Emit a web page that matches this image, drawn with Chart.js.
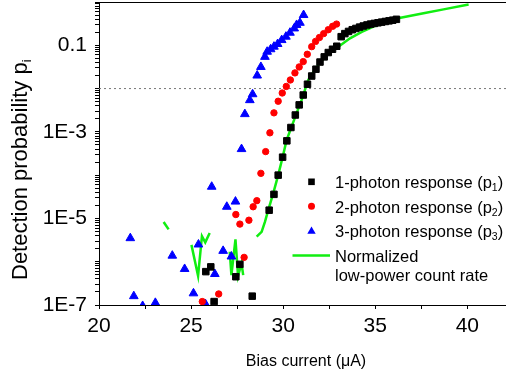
<!DOCTYPE html>
<html>
<head>
<meta charset="utf-8">
<script src="https://cdn.jsdelivr.net/npm/chart.js@4/dist/chart.umd.min.js"></script>
<style>
  body { margin: 0; background: #fff; }
</style>
</head>
<body>
<canvas id="grafik" width="506" height="376"></canvas>
<script>
const FONT = '"Liberation Sans", Arial, sans-serif';

// x axis
const xMin = 20;
const xMax = 42.1;
const xTickStep = 2.5;
// y axis (log)
const yMin = 1e-7;
const yMax = 1;
const yTickValues = [1e-7, 1e-5, 1e-3, 0.1];
const yTickLabels = ["1E-7", "1E-5", "1E-3", "0.1"];
const thresholdLevel = 0.01;

// 1-photon response (p1)
const p1X = [25.80, 26.07, 26.25, 27.43, 27.65, 28.32,
  29.24, 29.50, 29.73, 29.97, 30.20, 30.42, 30.66, 30.87, 31.09, 31.32, 31.55, 31.78, 32.00, 32.23, 32.45, 32.68, 32.91,
  33.15, 33.35, 33.55, 33.75, 33.95, 34.15, 34.35, 34.55, 34.75, 34.95, 35.15, 35.35, 35.55, 35.75, 35.95, 36.15];
const p1Y = [5.9e-7, 7.6e-7, 1.2e-7, 4.5e-7, 8.7e-7, 1.6e-7,
  1.55e-5, 3.6e-5, 1.0e-4, 2.6e-4, 6.2e-4, 1.26e-3, 2.45e-3, 4.2e-3, 7.1e-3, 1.26e-2, 1.95e-2, 2.8e-2, 4.1e-2, 5.4e-2, 6.8e-2, 8.1e-2, 9.5e-2,
  0.158, 0.186, 0.209, 0.229, 0.245, 0.263, 0.279, 0.295, 0.309, 0.320, 0.331, 0.343, 0.355, 0.367, 0.380, 0.398];

// 2-photon response (p2)
const p2X = [25.61, 26.50, 27.43, 27.65, 27.88, 28.14, 28.37, 28.57, 28.79, 29.05, 29.28, 29.50, 29.73, 29.95,
  30.17, 30.39, 30.64, 30.87, 31.09, 31.31, 31.55, 31.76, 31.97, 32.20, 32.45, 32.69, 32.90];
const p2Y = [1.2e-7, 1.8e-7, 1.23e-5, 7.4e-6, 1.26e-6, 9.1e-6, 1.86e-5, 2.57e-5, 1.1e-4, 3.5e-4, 9.5e-4, 2.75e-3, 5.1e-3, 7.9e-3,
  1.12e-2, 1.58e-2, 2.3e-2, 3.16e-2, 4.2e-2, 6.2e-2, 9.3e-2, 0.123, 0.151, 0.186, 0.229, 0.275, 0.309];

// 3-photon response (p3)
const p3X = [21.70, 21.89, 22.37, 23.06, 23.98, 24.65, 25.13, 25.40, 25.78, 26.12, 26.29, 26.74, 26.94, 27.19, 27.41,
  27.74, 27.92, 28.19, 28.34, 28.59, 28.79, 29.01, 29.13, 29.32, 29.50, 29.70, 29.92, 30.15, 30.37, 30.60, 30.73, 30.91, 31.11];
const p3Y = [3.5e-6, 1.6e-7, 9.5e-8, 1.12e-7, 1.38e-6, 6.8e-7, 1.86e-7, 2.5e-6, 1.05e-7, 5.4e-5, 5.2e-7, 1.78e-6, 1.86e-5, 1.32e-6, 2.45e-5,
  4.0e-4, 2.57e-3, 5.4e-3, 7.4e-3, 2.0e-2, 3.16e-2, 5.4e-2, 7.1e-2, 8.1e-2, 9.3e-2, 0.107, 0.132, 0.158, 0.195, 0.245, 0.295, 0.331, 0.50];

// normalized low-power count rate (broken into pieces)
const rateAX = [23.51, 23.78];
const rateAY = [8.3e-6, 5.6e-6];
const rateBX = [25.02, 25.38, 25.59, 25.77, 26.01];
const rateBY = [2.45e-6, 4.7e-7, 3.9e-6, 2.8e-6, 4.6e-6];
const rateCX = [27.10, 27.19, 27.41, 27.55, 27.74, 27.83];
const rateCY = [1.7e-6, 4.9e-7, 3.3e-6, 4.7e-7, 9.1e-7, 4.9e-7];
const rateX = [28.56, 28.83, 29.01, 29.19, 29.46, 29.73, 29.97, 30.19, 30.46, 30.73, 31.00, 31.36, 31.82, 32.36,
  33.00, 33.63, 34.27, 34.90, 35.63, 36.17, 37.62, 38.71, 40.07];
const rateY = [3.8e-6, 4.9e-6, 8.3e-6, 1.55e-5, 3.8e-5, 1.0e-4, 2.6e-4, 6.5e-4, 1.32e-3, 2.7e-3, 5.4e-3, 1.58e-2, 3.16e-2, 5.9e-2,
  9.3e-2, 0.145, 0.204, 0.269, 0.347, 0.417, 0.55, 0.676, 0.88];

const legendItems = [
  { text: "1-photon response (p", sub: "1", tail: ")", style: "rect", color: "#000000" },
  { text: "2-photon response (p", sub: "2", tail: ")", style: "circle", color: "#ff0000" },
  { text: "3-photon response (p", sub: "3", tail: ")", style: "triangle", color: "#0000ff" },
];
const GREEN = "#11ee11";

const toPoints = (xs, ys) => xs.map((x, i) => ({ x: x, y: ys[i] }));

function markerSet(xs, ys, style, color, radius) {
  return {
    data: toPoints(xs, ys),
    showLine: false,
    pointStyle: style,
    pointRadius: radius,
    pointHoverRadius: radius,
    pointBackgroundColor: color,
    pointBorderColor: color,
    pointBorderWidth: 1,
  };
}

function lineSet(xs, ys) {
  return {
    data: toPoints(xs, ys),
    showLine: true,
    borderColor: GREEN,
    borderWidth: 2.5,
    pointRadius: 0,
    tension: 0,
  };
}

// text with a subscript, drawn left to right from (x, y) along the baseline
function drawSubText(ctx, text, sub, tail, x, y, size, subSize, drop) {
  ctx.font = size + "px " + FONT;
  ctx.fillText(text, x, y);
  let w = ctx.measureText(text).width;
  ctx.font = subSize + "px " + FONT;
  ctx.fillText(sub, x + w, y + drop);
  w += ctx.measureText(sub).width;
  if (tail) {
    ctx.font = size + "px " + FONT;
    ctx.fillText(tail, x + w, y);
  }
}

const decorPlugin = {
  id: "decor",
  afterDraw(chart) {
    const ctx = chart.ctx;
    const area = chart.chartArea;
    ctx.save();
    // top frame line
    ctx.strokeStyle = "#000";
    ctx.lineWidth = 1;
    ctx.beginPath();
    ctx.moveTo(area.left, area.top + 0.5);
    ctx.lineTo(area.right, area.top + 0.5);
    ctx.stroke();

    ctx.fillStyle = "#000";
    ctx.textAlign = "left";
    ctx.textBaseline = "alphabetic";

    // y title (rotated)
    ctx.save();
    ctx.translate(27, 280);
    ctx.rotate(-Math.PI / 2);
    drawSubText(ctx, "Detection probability p", "i", "", 0, 0, 22, 13, 4);
    ctx.restore();

    // x title
    ctx.font = "16px " + FONT;
    ctx.textAlign = "center";
    ctx.fillText("Bias current (\u03bcA)", 306, 366);
    ctx.textAlign = "left";

    // legend
    const mx = 311.5;
    const tx = 335;
    const rows = [188.3, 212.7, 237.3];
    legendItems.forEach((item, i) => {
      const cy = rows[i] - 6.5;
      ctx.fillStyle = item.color;
      ctx.beginPath();
      if (item.style === "rect") {
        ctx.rect(mx - 3.3, cy - 3.3, 6.6, 6.6);
      } else if (item.style === "circle") {
        ctx.arc(mx, cy, 3.5, 0, Math.PI * 2);
      } else {
        ctx.moveTo(mx, cy - 4.3);
        ctx.lineTo(mx + 4.2, cy + 3);
        ctx.lineTo(mx - 4.2, cy + 3);
        ctx.closePath();
      }
      ctx.fill();
      ctx.fillStyle = "#000";
      drawSubText(ctx, item.text, item.sub, item.tail, tx, rows[i], 16.5, 10.5, 3);
    });
    ctx.strokeStyle = GREEN;
    ctx.lineWidth = 2.5;
    ctx.beginPath();
    ctx.moveTo(292.5, 255.5);
    ctx.lineTo(330, 255.5);
    ctx.stroke();
    ctx.fillStyle = "#000";
    ctx.font = "16.5px " + FONT;
    ctx.fillText("Normalized", tx, 261.7);
    ctx.fillText("low-power count rate", tx, 280.7);
    ctx.restore();
  },
};

const chart = document.getElementById("grafik");

new Chart(chart, {
  type: "scatter",
  data: {
    datasets: [
      markerSet(p1X, p1Y, "rect", "#000000", 4.6),
      markerSet(p2X, p2Y, "circle", "#ff0000", 3.2),
      markerSet(p3X, p3Y, "triangle", "#0000ff", 5),
      lineSet(rateAX, rateAY),
      lineSet(rateBX, rateBY),
      lineSet(rateCX, rateCY),
      lineSet(rateX, rateY),
      {
        data: [{ x: xMin, y: thresholdLevel }, { x: xMax, y: thresholdLevel }],
        showLine: true,
        borderColor: "#777",
        borderWidth: 1,
        borderDash: [2, 3],
        pointRadius: 0,
      },
    ],
  },
  options: {
    responsive: false,
    animation: false,
    events: [],
    layout: { autoPadding: false, padding: { top: 2, right: 0, left: 0, bottom: 0 } },
    plugins: {
      legend: { display: false },
      tooltip: { enabled: false },
    },
    scales: {
      x: {
        type: "linear",
        min: xMin,
        max: xMax,
        afterFit: (scale) => {
          scale.height = 71;
          scale.paddingLeft = 0;
          scale.paddingRight = 0;
        },
        grid: { drawOnChartArea: false, drawTicks: true, tickLength: 4, color: "#000" },
        border: { display: true, color: "#000", width: 1 },
        ticks: {
          stepSize: xTickStep,
          includeBounds: false,
          autoSkip: false,
          maxRotation: 0,
          padding: 5,
          color: "#000",
          font: { family: FONT, size: 21 },
          callback: (v) => (v % 5 === 0 ? String(v) : ""),
        },
      },
      y: {
        type: "logarithmic",
        min: yMin,
        max: yMax,
        afterFit: (scale) => {
          scale.width = 99;
          scale.paddingTop = 0;
          scale.paddingBottom = 0;
        },
        afterBuildTicks: (scale) => {
          const ticks = [];
          for (let e = -7; e < 0; e++) {
            for (let m = 1; m < 10; m++) ticks.push({ value: m * Math.pow(10, e) });
          }
          ticks.push({ value: 1 });
          scale.ticks = ticks;
        },
        grid: { drawOnChartArea: false, drawTicks: true, tickLength: 4, color: "#000" },
        border: { display: true, color: "#000", width: 1 },
        ticks: {
          autoSkip: false,
          padding: 8,
          color: "#000",
          font: { family: FONT, size: 21 },
          callback: (v) => {
            const i = yTickValues.findIndex((t) => Math.abs(t - v) / t < 1e-6);
            return i >= 0 ? yTickLabels[i] : "";
          },
        },
      },
    },
  },
  plugins: [decorPlugin],
});
</script>
</body>
</html>
